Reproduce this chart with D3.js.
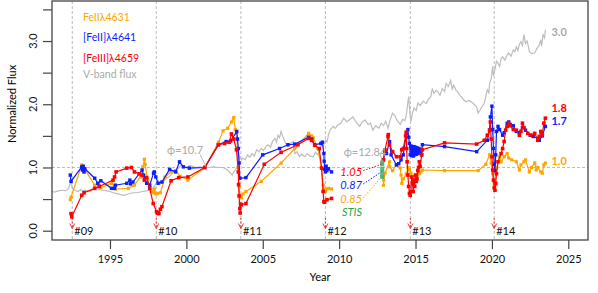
<!DOCTYPE html>
<html>
<head>
<meta charset="utf-8">
<script src="https://cdn.jsdelivr.net/npm/d3@7"></script>
<style>
  body { margin: 0; background: #fff; }
  svg { font-family: Lato, "Open Sans", sans-serif; }
</style>
</head>
<body>
<div id="my_dataviz"></div>
<script>
// V-band photometry (normalized)
var vband = [
  [1991.2,0.62],[1991.4,0.61],[1991.6,0.63],[1991.9,0.64],[1992.1,0.63],[1992.3,0.67],[1992.4,0.75],[1992.45,0.78],
  [1992.55,0.66],[1992.7,0.64],[1992.9,0.62],[1993.1,0.65],[1993.2,0.63],[1993.4,0.64],[1993.7,0.62],[1993.9,0.65],
  [1994.1,0.67],[1994.3,0.65],[1994.5,0.64],[1994.8,0.63],[1995.0,0.62],[1995.2,0.60],[1995.4,0.59],[1995.7,0.57],
  [1995.9,0.56],[1996.2,0.58],[1996.5,0.60],[1996.8,0.60],[1997.1,0.62],[1997.4,0.63],[1997.6,0.64],[1997.8,0.67],
  [1997.95,0.72],[1998.15,0.80],[1998.3,0.74],[1998.5,0.79],[1998.7,0.83],[1998.9,0.86],[1999.1,0.91],[1999.3,0.95],
  [1999.5,0.99],[1999.7,1.04],[1999.85,1.0],[2000.0,1.0],[2000.2,1.03],[2000.4,1.02],[2000.6,1.0],[2000.9,1.01],
  [2001.2,1.0],[2001.5,1.0],[2001.8,1.01],[2002.1,1.0],[2002.4,1.0],[2002.7,0.96],[2002.85,0.92],[2003.0,0.88],
  [2003.1,0.93],[2003.2,0.96],[2003.3,1.0],[2003.4,1.07],[2003.5,1.17],[2003.6,1.12],[2003.7,1.15],[2003.85,1.12],
  [2004.0,1.2],[2004.15,1.16],[2004.3,1.22],[2004.45,1.18],[2004.6,1.28],[2004.75,1.25],[2004.9,1.3],[2005.05,1.27],
  [2005.2,1.33],[2005.35,1.36],[2005.5,1.32],[2005.65,1.42],[2005.8,1.46],[2005.9,1.40],[2006.0,1.51],[2006.1,1.47],
  [2006.2,1.57],[2006.3,1.50],[2006.4,1.44],[2006.5,1.38],[2006.65,1.33],[2006.8,1.38],[2007.0,1.41],[2007.1,1.22],
  [2007.25,1.25],[2007.4,1.17],[2007.55,1.21],[2007.75,1.17],[2007.9,1.22],[2008.1,1.18],[2008.3,1.17],[2008.45,1.24],
  [2008.6,1.2],[2008.75,1.28],[2008.85,1.36],[2008.95,1.33],[2009.1,1.43],[2009.2,1.40],[2009.3,1.51],[2009.4,1.59],
  [2009.5,1.62],[2009.6,1.65],[2009.75,1.62],[2009.9,1.67],[2010.1,1.70],[2010.3,1.78],[2010.5,1.72],[2010.7,1.76],
  [2010.9,1.80],[2011.1,1.72],[2011.35,1.65],[2011.5,1.72],[2011.7,1.75],[2011.9,1.68],[2012.05,1.70],[2012.2,1.59],
  [2012.4,1.66],[2012.6,1.62],[2012.75,1.70],[2012.9,1.66],[2013.05,1.73],[2013.2,1.62],[2013.35,1.76],[2013.5,1.86],
  [2013.65,1.82],[2013.8,1.74],[2014.0,1.68],[2014.15,1.76],[2014.3,1.74],[2014.4,1.83],[2014.5,2.04],[2014.55,2.12],
  [2014.62,1.9],[2014.7,1.73],[2014.8,1.86],[2014.9,1.94],[2015.05,1.9],[2015.15,2.02],[2015.3,1.98],[2015.5,2.05],
  [2015.7,2.01],[2015.85,2.08],[2016.0,2.12],[2016.1,2.25],[2016.2,2.17],[2016.35,2.22],[2016.45,2.2],[2016.6,2.14],
  [2016.75,2.25],[2016.9,2.2],[2017.0,2.33],[2017.15,2.28],[2017.3,2.38],[2017.4,2.24],[2017.5,2.3],[2017.65,2.22],
  [2017.75,2.2],[2017.9,2.14],[2018.0,2.12],[2018.15,2.07],[2018.3,2.04],[2018.5,2.06],[2018.75,2.02],[2018.9,1.98],
  [2019.0,1.96],[2019.1,1.86],[2019.25,1.92],[2019.4,1.98],[2019.5,2.02],[2019.6,2.12],[2019.7,2.23],[2019.8,2.18],
  [2019.85,2.33],[2019.95,2.4],[2020.05,2.6],[2020.1,2.45],[2020.2,2.55],[2020.3,2.68],[2020.4,2.65],[2020.5,2.6],
  [2020.6,2.72],[2020.7,2.75],[2020.85,2.7],[2021.0,2.78],[2021.1,2.81],[2021.25,2.76],[2021.4,2.86],[2021.5,2.83],
  [2021.6,2.91],[2021.7,2.85],[2021.8,2.95],[2021.9,2.99],[2022.0,2.93],[2022.1,3.1],[2022.2,2.96],[2022.3,3.0],
  [2022.4,2.9],[2022.45,2.83],[2022.6,2.8],[2022.8,2.81],[2022.9,2.86],[2023.0,2.9],[2023.1,2.94],[2023.2,3.02],
  [2023.25,2.92],[2023.35,3.1],[2023.45,3.05],[2023.5,3.18]
];

// FeII 4631 (orange), null = gap in the monitoring
var fe4631 = [
  [1992.40,0.49],[1992.45,0.53],[1993.15,1.04],[1993.2,0.99],[1993.3,0.93],[1993.35,0.97],[1994.0,0.72],[1994.3,0.72],
  [1994.4,0.68],[1995.1,0.75],[1995.3,0.70],[1995.35,0.66],[1996.2,0.67],[1996.6,0.72],[1997.0,0.85],[1997.15,1.01],
  [1997.25,1.13],[1997.3,1.05],[1997.45,0.82],[1997.6,0.70],[1997.7,0.62],[1997.85,0.60],[1997.9,0.66],[1998.0,0.58],
  [1998.1,0.59],[1998.3,0.60],[1998.6,0.85],[1999.0,0.93],[1999.3,0.95],[1999.6,0.86],[2000.1,0.80],[2001.2,1.0],
  [2002.1,1.40],[2002.4,1.58],[2002.7,1.62],[2002.95,1.72],[2003.1,1.79],[2003.2,1.60],[2003.3,1.45],[2003.4,1.0],
  [2003.45,0.7],[2003.5,0.56],[2003.6,0.52],[2003.7,0.58],[2003.9,0.62],[2004.9,0.78],[2006.2,1.07],[2007.1,1.30],
  [2008.0,1.54],[2008.2,1.50],[2008.3,1.47],[2008.6,1.30],[2008.85,0.99],[2008.95,0.72],[2009.0,0.65],[2009.1,0.62],
  [2009.2,0.66],[2009.3,0.67],[2009.5,0.66],[2011,null],
  [2012.9,0.72],[2012.92,0.80],[2013.0,0.91],[2013.3,1.09],[2013.32,1.01],[2013.5,0.95],[2013.75,1.04],[2014.0,0.99],
  [2014.05,0.88],[2014.1,0.75],[2014.2,0.82],[2014.4,0.90],[2014.5,1.0],[2014.6,0.97],[2014.7,0.91],[2014.85,0.83],
  [2014.95,0.86],[2015.05,0.80],[2015.15,0.88],[2015.25,0.91],[2015.35,0.93],[2015.45,0.96],[2016.9,0.95],[2019.1,0.95],
  [2019.6,1.05],[2019.85,1.2],[2019.95,1.07],[2020.05,0.9],[2020.15,0.75],[2020.2,0.72],[2020.3,0.99],[2020.5,1.17],
  [2020.6,1.09],[2020.8,1.17],[2021.0,1.22],[2021.1,1.15],[2021.3,1.12],[2021.6,1.09],[2021.8,0.96],[2021.9,1.04],
  [2022.1,1.09],[2022.2,1.12],[2022.45,0.93],[2022.6,1.0],[2022.8,1.07],[2022.9,0.96],[2023.0,1.0],[2023.2,0.93],
  [2023.3,0.91],[2023.4,1.04],[2023.5,1.07]
];

// [FeII] 4641 (blue)
var fe4641 = [
  [1992.4,0.88],[1992.45,0.78],[1993.15,1.01],[1993.2,0.96],[1993.25,1.02],[1993.3,0.93],[1993.35,0.98],[1994.0,0.83],
  [1994.2,0.75],[1994.4,0.79],[1995.1,0.67],[1995.3,0.67],[1995.35,0.72],[1996.1,0.75],[1996.3,0.80],[1996.35,0.74],
  [1996.5,0.77],[1997.1,0.96],[1997.2,0.88],[1997.4,0.75],[1997.6,0.72],[1997.85,0.91],[1997.9,0.93],[1998.0,0.85],
  [1998.15,0.75],[1998.4,0.77],[1998.9,0.97],[1999.3,0.93],[1999.55,1.09],[1999.8,1.01],[2000.2,0.99],[2001.2,1.0],
  [2002.1,1.36],[2002.6,1.41],[2002.9,1.42],[2003.3,1.57],[2003.35,1.45],[2003.4,1.30],[2003.45,1.07],[2003.5,0.83],
  [2003.9,0.84],[2005.0,1.20],[2006.1,1.30],[2006.65,1.36],[2007.1,1.37],[2008.0,1.48],[2008.2,1.45],[2008.4,1.36],
  [2008.8,1.38],[2008.9,1.40],[2009.0,1.22],[2009.02,1.1],[2009.05,0.97],[2009.1,0.93],[2009.15,1.02],[2009.2,0.95],
  [2009.3,0.98],[2009.5,0.93],[2011,null],
  [2012.9,1.12],[2013.0,1.25],[2013.1,1.22],[2013.3,1.41],[2013.4,1.20],[2013.75,1.04],[2013.9,1.06],[2014.05,1.12],
  [2014.2,1.2],[2014.4,1.54],[2014.5,1.60],[2014.55,1.48],[2014.6,1.38],[2014.65,1.2],[2014.7,1.34],[2014.75,1.19],
  [2014.8,1.33],[2014.85,1.18],[2014.9,1.33],[2014.95,1.2],[2015.0,1.32],[2015.05,1.21],[2015.1,1.31],[2015.15,1.22],
  [2015.2,1.3],[2015.25,1.23],[2015.3,1.29],[2015.4,1.20],[2015.45,1.36],[2016.9,1.33],[2019.0,1.25],[2019.7,1.43],
  [2019.85,1.59],[2019.9,1.8],[2020.0,1.97],[2020.05,1.6],[2020.1,1.3],[2020.15,1.05],[2020.2,0.95],[2020.25,1.2],
  [2020.3,1.57],[2020.4,1.65],[2020.5,1.6],[2020.7,1.51],[2020.8,1.55],[2021.0,1.70],[2021.1,1.72],[2021.2,1.68],
  [2021.4,1.66],[2021.6,1.57],[2021.8,1.55],[2022.0,1.63],[2022.2,1.59],[2022.5,1.51],[2022.7,1.49],[2023.0,1.46],
  [2023.1,1.43],[2023.3,1.50],[2023.5,1.65]
];

// [FeIII] 4659 (red)
var fe4659 = [
  [1992.45,0.27],[1992.5,0.22],[1993.15,0.56],[1993.3,0.60],[1994.0,0.67],[1994.3,0.70],[1995.2,0.80],[1995.3,0.85],
  [1995.4,0.93],[1996.1,0.99],[1996.4,1.0],[1996.6,0.93],[1996.9,0.90],[1997.1,0.88],[1997.25,0.80],[1997.4,0.84],
  [1997.6,0.67],[1997.83,0.43],[1998.05,0.30],[1998.1,0.28],[1998.2,0.27],[1998.3,0.34],[1998.4,0.38],[1999.0,0.79],
  [1999.5,0.84],[2000.1,0.85],[2001.2,1.0],[2002.1,1.36],[2002.5,1.38],[2002.8,1.40],[2002.95,1.53],[2003.1,1.45],
  [2003.28,1.28],[2003.4,0.93],[2003.42,0.73],[2003.45,0.55],[2003.5,0.35],[2003.52,0.28],[2003.55,0.42],[2003.6,0.41],
  [2003.9,0.43],[2005.1,1.05],[2006.2,1.24],[2007.3,1.36],[2008.0,1.46],[2008.2,1.43],[2008.4,1.35],[2008.7,1.30],
  [2008.85,0.99],[2008.95,0.62],[2009.0,0.46],[2009.05,0.45],[2009.2,0.49],[2009.5,0.51],[2011,null],
  [2012.9,1.12],[2013.0,1.28],[2013.2,1.49],[2013.22,1.52],[2013.3,1.36],[2013.5,1.25],[2013.75,1.17],[2014.0,1.17],
  [2014.1,1.28],[2014.2,1.30],[2014.35,1.50],[2014.4,1.56],[2014.42,1.30],[2014.45,1.09],[2014.5,0.88],[2014.55,0.70],
  [2014.6,0.59],[2014.65,0.56],[2014.7,0.62],[2014.75,0.85],[2014.8,0.75],[2014.85,0.62],[2014.9,0.80],[2014.95,0.70],
  [2015.0,0.88],[2015.05,0.78],[2015.1,0.82],[2015.15,0.95],[2015.2,1.0],[2015.25,1.09],[2015.3,1.02],[2015.4,1.2],
  [2015.45,1.28],[2016.9,1.39],[2019.0,1.37],[2019.5,1.43],[2019.7,1.51],[2019.85,1.59],[2019.9,1.72],[2019.95,1.45],
  [2020.0,1.17],[2020.05,0.96],[2020.1,0.8],[2020.15,0.68],[2020.2,0.64],[2020.25,0.75],[2020.3,0.9],[2020.4,1.09],
  [2020.6,1.22],[2020.7,1.30],[2020.8,1.41],[2020.9,1.59],[2021.0,1.65],[2021.1,1.70],[2021.2,1.66],[2021.4,1.60],
  [2021.6,1.59],[2021.8,1.51],[2021.9,1.57],[2022.0,1.70],[2022.1,1.63],[2022.35,1.54],[2022.55,1.51],[2022.8,1.54],
  [2023.0,1.43],[2023.1,1.49],[2023.2,1.57],[2023.3,1.52],[2023.4,1.70],[2023.5,1.78]
];

// HST/STIS measurements
var stisYear = 2012.82;
var stisFlux = [1.08, 1.05, 0.98, 0.93, 0.87, 0.85];

var periYears = [1992.53, 1998.03, 2003.57, 2009.1, 2014.66, 2020.15];
var periLabels = ["#09", "#10", "#11", "#12", "#13", "#14"];

var xTicks = [1995, 2000, 2005, 2010, 2015, 2020, 2025];
var yTicks = [0, 0.5, 1, 1.5, 2, 2.5, 3, 3.5];
var yLabels = {0: "0.0", 1: "1.0", 2: "2.0", 3: "3.0"};

var margin = {top: 1, right: 10, bottom: 53, left: 52},
    width = 598 - margin.left - margin.right,
    height = 293 - margin.top - margin.bottom;

var svg = d3.select("#my_dataviz")
  .append("svg")
    .attr("width", 598)
    .attr("height", 293)
  .append("g")
    .attr("transform", "translate(" + margin.left + "," + margin.top + ")");

var x = d3.scaleLinear().domain([1991.204, 2026.29]).range([0, width]);
var y = d3.scaleLinear().domain([-0.147, 3.633]).range([height, 0]);

var orange = "#ffa500", blue = "#0a1eff", red = "#ff0000", grey = "#bdbdbd";

// reference lines
svg.append("line")
  .attr("x1", 0).attr("x2", width)
  .attr("y1", y(1)).attr("y2", y(1))
  .attr("stroke", "#aaa").attr("stroke-width", 0.8)
  .attr("stroke-dasharray", "3,2");

svg.selectAll(".peri")
  .data(periYears)
  .enter().append("line")
  .attr("class", "peri")
  .attr("x1", function(d){ return x(d); })
  .attr("x2", function(d){ return x(d); })
  .attr("y1", 0).attr("y2", height)
  .attr("stroke", "#aaa").attr("stroke-width", 0.8)
  .attr("stroke-dasharray", "3,2");

var line = d3.line()
  .defined(function(d){ return d[1] !== null; })
  .x(function(d){ return x(d[0]); })
  .y(function(d){ return y(d[1]); });

svg.append("path")
  .datum(vband)
  .attr("fill", "none")
  .attr("stroke", grey)
  .attr("stroke-width", 1.2)
  .attr("d", line);

function drawSeries(data, color, size){
  svg.append("path")
    .datum(data)
    .attr("fill", "none")
    .attr("stroke", color)
    .attr("stroke-width", 1.2)
    .attr("d", line);

  svg.selectAll(null)
    .data(data.filter(function(d){ return d[1] !== null; }))
    .enter().append("rect")
    .attr("x", function(d){ return x(d[0]) - size / 2; })
    .attr("y", function(d){ return y(d[1]) - size / 2; })
    .attr("width", size)
    .attr("height", size)
    .attr("fill", color);
}

drawSeries(fe4631, orange, 3.2);
drawSeries(fe4641, blue, 3.4);
drawSeries(fe4659, red, 3.6);

// STIS points
svg.selectAll(".stis")
  .data(stisFlux)
  .enter().append("rect")
  .attr("class", "stis")
  .attr("x", x(stisYear) - 2)
  .attr("y", function(d){ return y(d) - 2; })
  .attr("width", 4).attr("height", 4)
  .attr("fill", "#3cb371")
  .attr("opacity", 0.85);

// periastron arrows and labels
var arrows = svg.selectAll(".arrow")
  .data(periYears)
  .enter().append("g")
  .attr("class", "arrow");

arrows.append("line")
  .attr("x1", function(d){ return x(d); })
  .attr("x2", function(d){ return x(d); })
  .attr("y1", y(0.2)).attr("y2", y(0.035))
  .attr("stroke", red).attr("stroke-width", 0.8)
  .attr("stroke-dasharray", "2,1.5");

arrows.append("path")
  .attr("d", function(d){
    var px = x(d), py = y(0.035);
    return "M" + (px - 2.5) + "," + (py - 5) + "L" + px + "," + py + "L" + (px + 2.5) + "," + (py - 5);
  })
  .attr("fill", "none")
  .attr("stroke", red).attr("stroke-width", 0.8);

svg.selectAll(".perilabel")
  .data(periYears)
  .enter().append("text")
  .attr("class", "perilabel")
  .attr("x", function(d){ return x(d) + 2; })
  .attr("y", y(-0.07))
  .attr("font-size", "11px")
  .attr("fill", "#111")
  .text(function(d, i){ return periLabels[i]; });

// axes
var xAxis = d3.axisBottom(x).tickValues(xTicks).tickSize(9).tickFormat(d3.format("d"));
var gx = svg.append("g")
  .attr("transform", "translate(0," + height + ")")
  .call(xAxis);
gx.select(".domain").remove();
gx.selectAll("line").attr("stroke", "#444").attr("stroke-width", 1.2);
gx.selectAll("text").attr("font-size", "11px").attr("fill", "#111").attr("dy", "0.97em")
  .attr("font-family", "Lato, sans-serif");

var yAxis = d3.axisLeft(y).tickValues(yTicks).tickSize(9).tickFormat("");
var gy = svg.append("g").call(yAxis);
gy.select(".domain").remove();
gy.selectAll("line").attr("stroke", "#444").attr("stroke-width", 1.2);

svg.selectAll(".ylab")
  .data([0, 1, 2, 3])
  .enter().append("text")
  .attr("class", "ylab")
  .attr("transform", function(d){ return "translate(-19," + y(d) + ") rotate(-90)"; })
  .attr("text-anchor", "middle")
  .attr("dy", "0.35em")
  .attr("font-size", "11px")
  .attr("fill", "#111")
  .text(function(d){ return yLabels[d]; });

svg.append("rect")
  .attr("x", 0).attr("y", 0)
  .attr("width", width).attr("height", height)
  .attr("fill", "none")
  .attr("stroke", "#444").attr("stroke-width", 1.3);

svg.append("text")
  .attr("x", width / 2).attr("y", 280)
  .attr("text-anchor", "middle")
  .attr("font-size", "11px")
  .text("Year");

svg.append("text")
  .attr("transform", "translate(-36,103) rotate(-90)")
  .attr("text-anchor", "middle")
  .attr("font-size", "11px")
  .text("Normalized Flux");

// legend
var legend = [
  ["FeII\u03bb4631", orange, 20],
  ["[FeII]\u03bb4641", blue, 40],
  ["[FeIII]\u03bb4659", red, 60.5],
  ["V-band flux", "#aaa", 76.5]
];
svg.selectAll(".leg")
  .data(legend)
  .enter().append("text")
  .attr("class", "leg")
  .attr("x", 31).attr("y", function(d){ return d[2]; })
  .attr("font-size", "10.5px")
  .attr("fill", function(d){ return d[1]; })
  .text(function(d){ return d[0]; });

// end values on the right
var ends = [["3.0", "#aaa", 3.14], ["1.8", red, 1.94], ["1.7", blue, 1.73], ["1.0", orange, 1.1]];
svg.selectAll(".endlab")
  .data(ends)
  .enter().append("text")
  .attr("class", "endlab")
  .attr("x", x(2023.9)).attr("y", function(d){ return y(d[2]); })
  .attr("dy", "0.35em")
  .attr("font-size", "11px").attr("font-weight", "bold")
  .attr("fill", function(d){ return d[1]; })
  .text(function(d){ return d[0]; });

// phase labels
svg.append("text")
  .attr("x", x(1998.73)).attr("y", y(1.28)).attr("dy", "0.35em")
  .attr("font-size", "11px").attr("fill", "#aaa")
  .text("\u03d5=10.7");
svg.append("line")
  .attr("x1", x(2000.9)).attr("y1", y(1.2))
  .attr("x2", x(2001.3)).attr("y2", y(1.01))
  .attr("stroke", "#aaa").attr("stroke-width", 0.8);

svg.append("text")
  .attr("x", x(2010.3)).attr("y", y(1.245)).attr("dy", "0.35em")
  .attr("font-size", "11px").attr("fill", "#aaa")
  .text("\u03d5=12.84");
svg.append("line")
  .attr("x1", x(2012.67)).attr("y1", y(1.23))
  .attr("x2", x(2012.85)).attr("y2", y(1.08))
  .attr("stroke", "#aaa").attr("stroke-width", 0.8);

// STIS annotations
var stisNotes = [["1.05", red, 0.93, 1.05], ["0.87", blue, 0.72, 0.93], ["0.85", orange, 0.5, 0.85], ["STIS", "#1fa84a", 0.3, null]];
svg.selectAll(".stisnote")
  .data(stisNotes)
  .enter().append("text")
  .attr("class", "stisnote")
  .attr("x", x(2011.5)).attr("y", function(d){ return y(d[2]); })
  .attr("dy", "0.35em")
  .attr("text-anchor", "end")
  .attr("font-size", "11px").attr("font-style", "italic")
  .attr("fill", function(d){ return d[1]; })
  .text(function(d){ return d[0]; });

svg.selectAll(".stisline")
  .data(stisNotes.filter(function(d){ return d[3] !== null; }))
  .enter().append("line")
  .attr("class", "stisline")
  .attr("x1", x(2011.58)).attr("y1", function(d){ return y(d[2] + 0.02); })
  .attr("x2", x(stisYear - 0.05)).attr("y2", function(d){ return y(d[3]); })
  .attr("stroke", function(d){ return d[1]; })
  .attr("stroke-width", 1)
  .attr("stroke-dasharray", "1.5,1.5");
</script>
</body>
</html>
